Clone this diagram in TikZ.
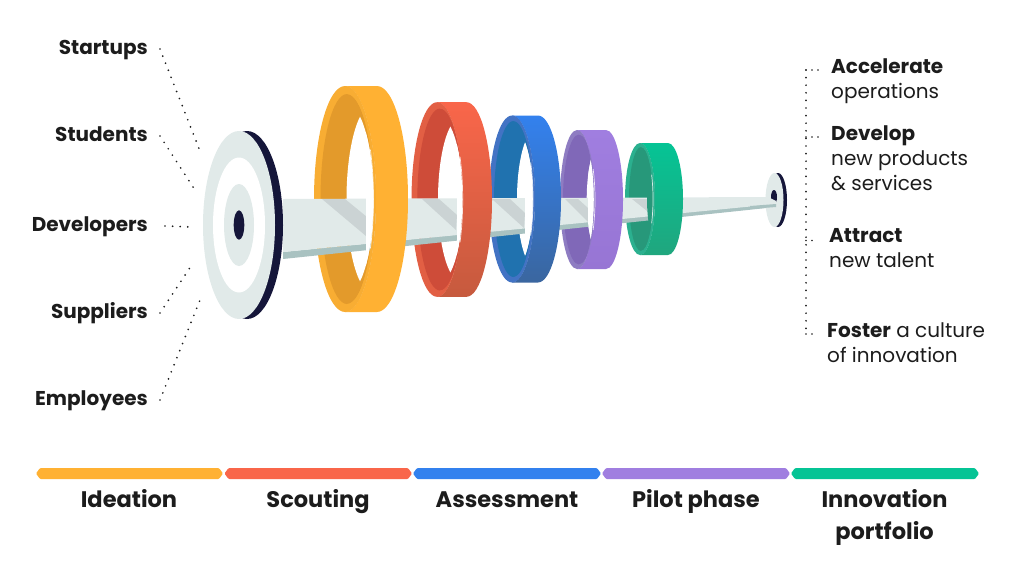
\documentclass[tikz,border=0pt]{standalone}
\usepackage{fontspec}
\setmainfont{Poppins}
\usepackage{tikz}
\usetikzlibrary{positioning}

\definecolor{inktext}{HTML}{1C1C1C}
\definecolor{navy}{HTML}{15163A}
\definecolor{pale}{HTML}{E1EAE9}
\definecolor{barside}{HTML}{A9C2C1}
\definecolor{barshade}{HTML}{CBD3D4}
% ring colours: top, bottom, rim, inner wall, hole
\definecolor{ytop}{HTML}{FFB133}\definecolor{ybot}{HTML}{FFB133}\definecolor{yrim}{HTML}{F8AD33}\definecolor{ywall}{HTML}{E39A2B}\colorlet{yhole}{white}
\definecolor{rtop}{HTML}{F9664A}\definecolor{rbot}{HTML}{C65A3E}\definecolor{rrim}{HTML}{E25F44}\definecolor{rwall}{HTML}{CE4C39}\colorlet{rhole}{white}
\definecolor{btop}{HTML}{3381EE}\definecolor{bbot}{HTML}{3A669F}\definecolor{brim}{HTML}{4273C4}\definecolor{bwall}{HTML}{2072AF}\colorlet{bhole}{white}
\definecolor{ptop}{HTML}{A07EE0}\definecolor{pbot}{HTML}{9775D4}\definecolor{prim}{HTML}{8E7CC2}\definecolor{pwall}{HTML}{8068B8}\colorlet{phole}{white}
\definecolor{gtop}{HTML}{05C495}\definecolor{gbot}{HTML}{20A67E}\definecolor{grim}{HTML}{2BB08F}\definecolor{gwall}{HTML}{27987A}\colorlet{ghole}{gwall}

\tikzset{
  dotline/.style={line width=1.9pt,line cap=round,dash pattern=on 0pt off 7.6pt,color=inktext},
  sourcetext/.style={font=\fontsize{20}{24}\selectfont\bfseries,text=inktext,anchor=east,inner xsep=12pt,inner ysep=0pt,text height=15pt,text depth=5pt},
  gaintext/.style={font=\fontsize{20}{25}\selectfont,text=inktext,anchor=north west,align=left,inner xsep=12pt,inner ysep=0pt},
  phasetext/.style={font=\fontsize{22.5}{32}\selectfont\bfseries,text=inktext,align=center,anchor=base,inner sep=0pt},
}
% phase strip: x start, x end, colour
\newcommand{\phasebar}[3]{\fill[#3,rounded corners=1pt] (#1,-473.5) -- (#1+4,-468) -- (#2-4,-468) -- (#2,-473.5) -- (#2-4,-479) -- (#1+4,-479) -- cycle;}

\begin{document}
\begin{tikzpicture}[x=1pt,y=1pt]
\useasboundingbox (0,0) rectangle (1024,-571);

% Rings, back part
\foreach \c/\xl/\xr/\a/\R/\xe/\be/\re/\xf/\cut/\cy/\hf in {
  y/345/377/31/113/347/26.5/105/373/366/-199/0.9,
  r/437/466.5/25.5/97.3/440/22.7/91/460.7/457/-199.5/0.9,
  b/512/538/23/83.5/513.5/19.5/78/536.5/525/-199/0.9,
  p/577/606/17/69.5/579/16/65/602.7/588/-199.5/1,
  g/640/668/15/56/641/12/52/659/647/-199/1}{
  \begin{scope}[shift={(0,\cy)}]
    \fill[\c rim] (\xl,0) ellipse [x radius=\a,y radius=\R];
    \fill[\c wall] (\xe,0) ellipse [x radius=\be,y radius=\re];
    \begin{scope}
      \clip (\xe,0) ellipse [x radius=\be,y radius=\hf*\re];
      \fill[\c hole] (\xf,0) ellipse [x radius=\be,y radius=0.9*\re];
    \end{scope}
  \end{scope}
}

% Bar
\fill[barside] (283,-252) -- (776,-203) -- (776,-207) -- (283,-259) -- cycle;
\fill[pale] (283,-199) -- (768,-197) -- (776,-201) -- (776,-204) -- (283,-252) -- cycle;
\fill[barshade] (322,-199) -- (345,-199) -- (367,-217) -- (366,-236) -- cycle;
\fill[barshade] (422,-199) -- (439,-199) -- (457,-215) -- (456,-230) -- cycle;
\fill[barshade] (492,-199) -- (510,-199) -- (525,-213) -- (524,-228) -- cycle;
\fill[barshade] (565,-199) -- (578,-199) -- (588,-208) -- (588,-222) -- cycle;
\fill[barshade] (632,-199) -- (647,-199) -- (647,-211) -- cycle;

% Rings, front part
\foreach \c/\xl/\xr/\a/\R/\xe/\be/\re/\xf/\cut/\cy/\hf in {
  y/345/377/31/113/347/26.5/105/373/366/-199/0.9,
  r/437/466.5/25.5/97.3/440/22.7/91/460.7/457/-199.5/0.9,
  b/512/538/23/83.5/513.5/19.5/78/536.5/525/-199/0.9,
  p/577/606/17/69.5/579/16/65/602.7/588/-199.5/1,
  g/640/668/15/56/641/12/52/659/647/-199/1}{
  \begin{scope}[shift={(0,\cy)}]
    \begin{scope}
      \clip (\xe,0) ellipse [x radius=\be,y radius=\hf*\re];
      \clip (\xf,0) ellipse [x radius=\be,y radius=0.9*\re];
      \fill[\c hole] (\cut,-\R) rectangle (\xr,\R);
    \end{scope}
    \shade[top color=\c top,bottom color=\c bot] (\xl,\R) -- (\xr,\R)
      arc [start angle=90,end angle=-90,x radius=\a,y radius=\R] -- (\xl,-\R)
      arc [start angle=-90,end angle=90,x radius=\a,y radius=\R] -- cycle;
    \fill[\c rim] (\xl,\R) arc [start angle=90,end angle=-90,x radius=\a,y radius=\R]
      -- (\xe,-\re) arc [start angle=-90,end angle=90,x radius=\be,y radius=\re] -- cycle;
    \draw[white,line width=0.7pt,opacity=0.8] (\xe,0) ++(28:\be pt and \re pt)
      arc [start angle=28,end angle=-28,x radius=\be,y radius=\re];
  \end{scope}
}

% Big disc
\fill[navy] (247,-225) ellipse [x radius=36,y radius=94];
\fill[pale] (239,-225) ellipse [x radius=36,y radius=94];
\fill[white] (239,-225) ellipse [x radius=26,y radius=67.5];
\fill[pale] (239,-225) ellipse [x radius=15,y radius=41];
\fill[navy] (239,-225) ellipse [x radius=5.3,y radius=14.7];

% Small disc
\fill[navy] (778,-200) ellipse [x radius=9,y radius=27];
\fill[pale] (774.5,-200) ellipse [x radius=9,y radius=27];
\fill[navy] (774,-197) ellipse [x radius=3,y radius=7];
\fill[pale] (750,-197.3) -- (768,-197) -- (776,-201) -- (776,-204) -- (750,-206) -- cycle;
\fill[barside] (750,-206) -- (776,-204) -- (776,-207) -- (750,-209) -- cycle;

% Sources
\node[sourcetext] (startups) at (160,-49) {Startups};
\node[sourcetext] (students) at (160,-136) {Students};
\node[sourcetext] (developers) at (160,-226) {Developers};
\node[sourcetext] (suppliers) at (160,-313) {Suppliers};
\node[sourcetext] (employees) at (160,-400) {Employees};
\coordinate (startupsend) at (200,-151);
\coordinate (studentsend) at (195,-190);
\coordinate (developersend) at (192,-227);
\coordinate (suppliersend) at (193,-263);
\coordinate (employeesend) at (200,-300);
\draw[dotline] (startups.east) -- (startupsend);
\draw[dotline] (students.east) -- (studentsend);
\draw[dotline] ([xshift=5pt]developers.east) -- (developersend);
\draw[dotline] (suppliers.east) -- (suppliersend);
\draw[dotline] (employees.east) -- (employeesend);

% Gains
\node[gaintext] (accelerate) at (819,-58) {\textbf{Accelerate}\\operations};
\node[gaintext] (develop) at (819,-125) {\textbf{Develop}\\new products\\\& services};
\node[gaintext] (attract) at (817,-228) {\textbf{Attract}\\new talent};
\node[gaintext] (foster) at (815,-322) {\textbf{Foster} a culture\\of innovation};
\coordinate (accelspine) at (806,-70);
\coordinate (developspine) at (806,-137);
\coordinate (attractspine) at (806,-240.5);
\coordinate (fosterspine) at (806,-334);
\draw[dotline] (accelspine) -- (fosterspine);
\draw[dotline,dash pattern=on 0pt off 6pt] (accelspine) -- (accelerate.north west |- accelspine);
\draw[dotline,dash pattern=on 0pt off 6pt] (developspine) -- (develop.north west |- developspine);
\draw[dotline,dash pattern=on 0pt off 6pt] (attractspine) -- (attract.north west |- attractspine);
\draw[dotline,dash pattern=on 0pt off 6pt] (fosterspine) -- (foster.north west |- fosterspine);

% Phases
\phasebar{36}{223}{ytop}
\phasebar{224.5}{412}{rtop}
\phasebar{413}{601}{btop}
\phasebar{602}{790}{ptop}
\phasebar{791}{979}{gtop}
\node[phasetext] (ideation) at (129,-507.5) {Ideation};
\node[phasetext] (scouting) at (318,-507.5) {Scouting};
\node[phasetext] (assessment) at (507,-507.5) {Assessment};
\node[phasetext] (pilot) at (696,-507.5) {Pilot phase};
\node[phasetext] (portfolio) at (884.5,-539.5) {Innovation\\portfolio};
\end{tikzpicture}
\end{document}
